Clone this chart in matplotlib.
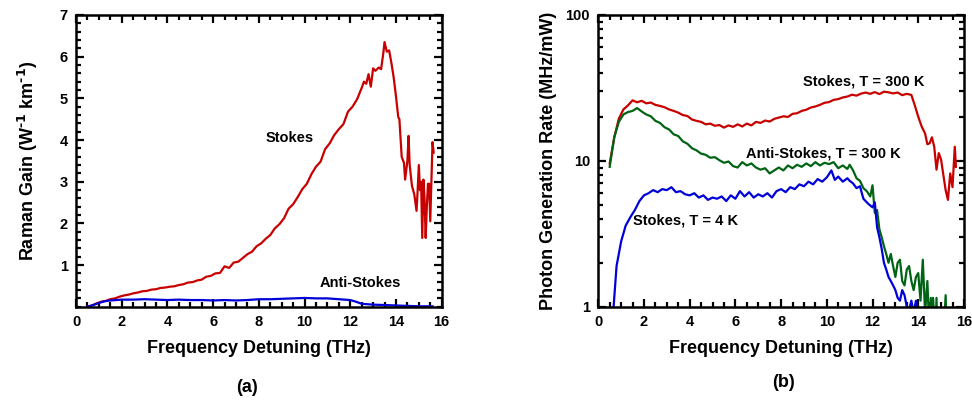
#Two panel Raman figure: (a) gain spectra, (b) photon generation rate on log scale
import numpy as np
import matplotlib.pyplot as plt
from matplotlib.ticker import MultipleLocator, FixedLocator, FuncFormatter, LogLocator, NullFormatter

plt.rcParams['font.family'] = ['Liberation Sans', 'DejaVu Sans']
plt.rcParams['font.weight'] = 'bold'
plt.rcParams['mathtext.default'] = 'bf'

#Panel (a) data: Raman gain (W^-1 km^-1) vs detuning (THz)
stokes_a_x = [0.5, 0.7, 0.9, 1.1, 1.3, 1.5, 1.7, 1.9, 2.1, 2.3, 2.5, 2.7, 2.9, 3.1, 3.3, 3.5,
              3.7, 3.9, 4.1, 4.3, 4.5, 4.7, 4.9, 5.1, 5.3, 5.5, 5.7, 5.9, 6.1, 6.3, 6.5, 6.7,
              6.9, 7.1, 7.3, 7.5, 7.7, 7.9, 8.1, 8.3, 8.5, 8.7, 8.9, 9.1, 9.3, 9.5, 9.7, 9.9,
              10.1, 10.3, 10.5, 10.7, 10.9, 11.1, 11.3, 11.5, 11.7, 11.9, 12.1, 12.3, 12.5,
              12.6, 12.7, 12.8, 12.9, 13.0, 13.1, 13.25, 13.35, 13.45, 13.5, 13.6, 13.7,
              13.8, 13.9, 14.0, 14.1, 14.15, 14.25, 14.35, 14.4, 14.5, 14.55, 14.6, 14.7,
              14.8, 14.9, 14.95, 15.0, 15.05, 15.1, 15.15, 15.2, 15.25, 15.3, 15.35, 15.4,
              15.45, 15.5, 15.55, 15.6, 15.65]
stokes_a_y = [0.00, 0.03, 0.08, 0.12, 0.14, 0.18, 0.20, 0.24, 0.27, 0.29, 0.32, 0.34, 0.37, 0.38,
              0.41, 0.42, 0.45, 0.46, 0.48, 0.49, 0.52, 0.54, 0.58, 0.59, 0.63, 0.65, 0.72, 0.74,
              0.80, 0.81, 0.97, 0.93, 1.06, 1.08, 1.17, 1.26, 1.32, 1.45, 1.52, 1.63, 1.72, 1.88,
              1.98, 2.12, 2.35, 2.46, 2.63, 2.82, 2.95, 3.18, 3.36, 3.48, 3.78, 3.92, 4.12, 4.26,
              4.38, 4.68, 4.80, 4.98, 5.25, 5.40, 5.35, 5.58, 5.28, 5.72, 5.66, 5.74, 5.70,
              6.10, 6.35, 6.12, 6.15, 5.85, 5.50, 5.05, 4.55, 4.50, 3.60, 3.45, 3.05, 3.50,
              4.10, 3.40, 2.90, 2.70, 2.30, 2.80, 3.40, 2.80, 3.00, 1.65, 3.05, 2.60, 1.65,
              2.40, 2.95, 2.95, 2.05, 3.00, 3.95, 3.70]

anti_a_x = [0.5, 0.75, 1.0, 1.25, 1.5, 1.75, 2.0, 2.5, 3.0, 3.5, 4.0, 4.5, 5.0, 5.5, 6.0, 6.5,
            7.0, 7.5, 8.0, 8.5, 9.0, 9.5, 10.0, 10.5, 11.0, 11.5, 12.0, 12.25, 12.5, 13.0,
            13.5, 14.0, 14.5, 15.0, 15.6]
anti_a_y = [0.0, 0.04, 0.09, 0.13, 0.15, 0.16, 0.17, 0.17, 0.18, 0.17, 0.16, 0.17, 0.16, 0.16,
            0.15, 0.16, 0.15, 0.16, 0.18, 0.18, 0.19, 0.20, 0.21, 0.20, 0.20, 0.18, 0.16,
            0.12, 0.07, 0.05, 0.04, 0.03, 0.02, 0.01, 0.01]

#Panel (b) data: photon generation rate (MHz/mW)
stokes300_x = [0.5, 0.7, 0.9, 1.1, 1.3, 1.5, 1.7, 1.9, 2.1, 2.3, 2.5, 2.7, 2.9, 3.1, 3.3, 3.5,
               3.7, 3.9, 4.1, 4.3, 4.5, 4.7, 4.9, 5.1, 5.3, 5.5, 5.7, 5.9, 6.1, 6.3, 6.5, 6.7,
               6.9, 7.1, 7.3, 7.5, 7.7, 7.9, 8.1, 8.3, 8.5, 8.7, 8.9, 9.1, 9.3, 9.5, 9.7, 9.9,
               10.1, 10.3, 10.5, 10.7, 10.9, 11.1, 11.3, 11.5, 11.7, 11.9, 12.1, 12.3, 12.5,
               12.7, 12.9, 13.1, 13.3, 13.5, 13.7, 13.85, 14.0, 14.15, 14.3, 14.4, 14.5, 14.6,
               14.7, 14.8, 14.9, 15.0, 15.1, 15.2, 15.3, 15.4, 15.5, 15.6, 15.65]
stokes300_y = [9.6, 14.5, 19.5, 22.5, 24.0, 26.0, 25.2, 25.8, 24.8, 25.1, 24.2, 23.8, 23.3, 22.5,
               22.0, 21.4, 20.6, 20.3, 19.2, 18.8, 18.5, 17.8, 18.0, 17.4, 17.6, 16.9, 17.5, 17.1,
               17.8, 17.2, 18.0, 17.5, 18.5, 18.2, 18.9, 18.6, 19.4, 19.8, 20.2, 20.0, 21.0, 21.2,
               22.0, 22.4, 23.2, 23.6, 24.2, 25.0, 25.3, 26.2, 26.5, 27.2, 27.6, 28.4, 28.0,
               28.9, 29.4, 28.8, 29.6, 28.7, 29.8, 29.5, 29.0, 29.4, 28.2, 28.8, 28.3, 24.0,
               20.1, 17.2, 15.4, 13.0, 13.2, 14.5, 12.5, 8.7, 11.3, 10.2, 8.0, 6.3, 5.4, 8.2,
               6.6, 12.5, 9.1]

anti300_x = [0.5, 0.7, 0.9, 1.1, 1.3, 1.5, 1.7, 1.9, 2.1, 2.3, 2.5, 2.7, 2.9, 3.1, 3.3, 3.5,
             3.7, 3.9, 4.1, 4.3, 4.5, 4.7, 4.9, 5.1, 5.3, 5.5, 5.7, 5.9, 6.1, 6.3, 6.5, 6.7,
             6.9, 7.1, 7.3, 7.5, 7.7, 7.9, 8.1, 8.3, 8.5, 8.7, 8.9, 9.1, 9.3, 9.5, 9.7, 9.9,
             10.1, 10.3, 10.5, 10.7, 10.9, 11.0, 11.15, 11.3, 11.45, 11.6, 11.75, 11.9, 12.0,
             12.1, 12.2, 12.3, 12.4, 12.5, 12.6, 12.7, 12.8, 12.9, 13.0, 13.1, 13.2, 13.3,
             13.4, 13.5, 13.6, 13.7, 13.8, 13.9, 14.0, 14.1, 14.2, 14.3, 14.4, 14.5, 14.55,
             14.6, 14.65, 14.75, 14.8, 14.85, 15.1, 15.2, 15.25]
anti300_y = [9.1, 14.5, 18.5, 20.8, 21.6, 22.0, 23.0, 21.8, 20.8, 20.2, 18.8, 18.2, 17.0, 16.4,
             15.2, 14.8, 13.6, 13.1, 12.2, 11.8, 11.2, 11.0, 10.5, 10.6, 10.1, 9.7, 9.9, 9.2,
             9.0, 9.8, 9.3, 9.6, 9.0, 8.7, 8.9, 8.2, 8.6, 9.0, 8.6, 9.3, 8.9, 9.4, 9.1, 9.6,
             9.2, 9.8, 9.3, 9.7, 9.5, 9.8, 8.9, 9.3, 8.8, 9.4, 8.6, 7.6, 7.3, 6.5, 6.2, 5.7,
             6.8, 4.4, 4.6, 3.4, 3.0, 2.6, 2.3, 2.0, 2.3, 1.9, 1.6, 2.0, 2.1, 1.5, 1.4, 1.8,
             1.9, 1.5, 1.3, 1.6, 1.7, 1.1, 2.1, 0.9, 1.5, 0.6, 1.15, 0.6, 1.15, 0.6, 1.15, 0.6,
             0.6, 1.2, 0.6]

stokes4_x = [0.65, 0.8, 1.0, 1.2, 1.4, 1.6, 1.8, 2.0, 2.2, 2.4, 2.6, 2.8, 3.0, 3.2, 3.4, 3.6,
             3.8, 4.0, 4.2, 4.4, 4.6, 4.8, 5.0, 5.2, 5.4, 5.6, 5.8, 6.0, 6.2, 6.4, 6.6, 6.8,
             7.0, 7.2, 7.4, 7.6, 7.8, 8.0, 8.2, 8.4, 8.6, 8.8, 9.0, 9.2, 9.4, 9.6, 9.8, 10.0,
             10.2, 10.35, 10.5, 10.7, 10.9, 11.0, 11.15, 11.3, 11.45, 11.6, 11.8, 12.0, 12.1,
             12.2, 12.3, 12.4, 12.5, 12.6, 12.7, 12.8, 12.9, 13.0, 13.1, 13.2, 13.3, 13.4,
             13.5, 13.6, 13.7, 13.8, 13.9, 14.0]
stokes4_y = [0.9, 1.9, 2.8, 3.6, 4.1, 4.6, 5.3, 5.8, 6.0, 6.3, 6.1, 6.4, 6.3, 6.6, 6.1, 6.2,
             5.9, 5.8, 6.0, 5.6, 5.8, 5.4, 5.6, 5.5, 5.7, 5.3, 5.8, 5.5, 6.2, 5.7, 6.1, 5.6,
             5.9, 5.7, 6.0, 5.6, 6.2, 6.4, 6.1, 6.6, 6.4, 6.9, 6.7, 7.2, 6.9, 7.5, 7.2, 7.7,
             8.6, 7.4, 7.8, 7.2, 7.6, 7.3, 7.0, 6.5, 6.7, 5.5, 5.1, 4.8, 5.2, 3.5, 3.0, 2.5,
             2.0, 1.8, 1.6, 1.5, 1.4, 1.3, 1.15, 1.1, 1.3, 1.2, 1.0, 0.95, 1.1, 0.9, 1.1, 0.9]

red = '#c80000'
blue = '#0000d8'
green = '#006414'

fig = plt.figure(figsize=(9.72, 4.04), dpi=100)
ax1 = fig.add_axes([0.0782, 0.2408, 0.3762, 0.7221])
ax2 = fig.add_axes([0.6155, 0.2408, 0.3762, 0.7221])

def style(ax):
    for s in ax.spines.values():
        s.set_linewidth(1.8)
    ax.tick_params(which='both', direction='in', top=True, right=True, width=1.6, labelsize=10.5)
    ax.tick_params(which='major', length=6, pad=6)
    ax.tick_params(which='minor', length=3.5)
    ax.set_xlim(0, 16)
    ax.xaxis.set_major_locator(MultipleLocator(2))
    ax.xaxis.set_minor_locator(MultipleLocator(0.5))
    ax.set_xlabel('Frequency Detuning (THz)', fontsize=13, fontweight='bold', labelpad=8)

#(a)
ax1.plot(stokes_a_x, stokes_a_y, color=red, lw=1.6)
ax1.plot(anti_a_x, anti_a_y, color=blue, lw=1.6)
style(ax1)
ax1.set_ylim(0, 7)
ax1.yaxis.set_major_locator(FixedLocator([1, 2, 3, 4, 5, 6, 7]))
ax1.yaxis.set_minor_locator(MultipleLocator(0.2))
ax1.set_ylabel(r'Raman Gain (W$^{\text{-1}}$ km$^{\text{-1}}$)', fontsize=13, fontweight='bold', labelpad=14)
ax1.text(9.36, 4.05, 'Stokes', fontsize=10.5, fontweight='bold', ha='center', va='center')
ax1.text(12.42, 0.57, 'Anti-Stokes', fontsize=10.5, fontweight='bold', ha='center', va='center')
fig.text(0.2538, 0.04, '(a)', fontsize=13, fontweight='bold', ha='center', va='center')

#(b)
ax2.plot(stokes300_x, stokes300_y, color=red, lw=1.6)
ax2.plot(anti300_x, anti300_y, color=green, lw=1.6)
ax2.plot(stokes4_x, stokes4_y, color=blue, lw=1.6)
style(ax2)
ax2.set_yscale('log')
ax2.set_ylim(1, 100)
ax2.yaxis.set_major_locator(FixedLocator([1, 10, 100]))
ax2.yaxis.set_major_formatter(FuncFormatter(lambda v, p: '%d' % v))
ax2.yaxis.set_minor_locator(LogLocator(base=10, subs=np.arange(2, 10)))
ax2.yaxis.set_minor_formatter(NullFormatter())
ax2.set_ylabel('Photon Generation Rate (MHz/mW)', fontsize=13, fontweight='bold', labelpad=6)
ax2.text(11.6, 34.9, 'Stokes, T = 300 K', fontsize=10.5, fontweight='bold', ha='center', va='center')
ax2.text(9.83, 11.3, 'Anti-Stokes, T = 300 K', fontsize=10.5, fontweight='bold', ha='center', va='center')
ax2.text(3.83, 3.93, 'Stokes, T = 4 K', fontsize=10.5, fontweight='bold', ha='center', va='center')
fig.text(0.8056, 0.052, '(b)', fontsize=13, fontweight='bold', ha='center', va='center')

plt.savefig('out.png', dpi=100)
